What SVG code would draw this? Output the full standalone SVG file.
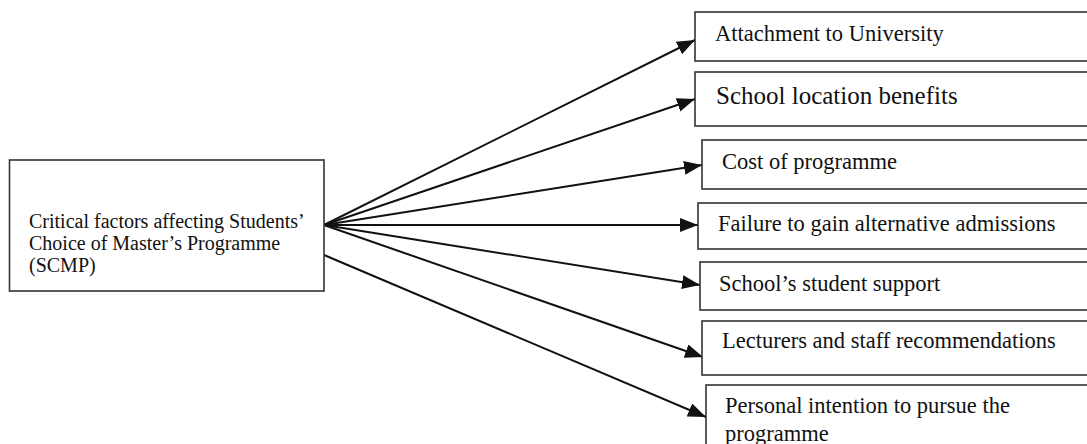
<svg xmlns="http://www.w3.org/2000/svg" width="1087" height="444" viewBox="0 0 1087 444">
<style>
.box{fill:#fff;stroke:#333;stroke-width:1.6}
.t{font-family:"Liberation Serif","Times New Roman",serif;fill:#111;font-size:22.5px}
.c{stroke:#111;stroke-width:2;fill:none}
</style>
<defs>
<marker id="ah" markerUnits="userSpaceOnUse" markerWidth="20" markerHeight="16" refX="18" refY="7" orient="auto">
<path d="M0,0 L18,7 L0,14 z" fill="#111"/>
</marker>
</defs>
<rect width="1087" height="444" fill="#fff"/>
<g id="connectors">
<line class="c" x1="324" y1="225" x2="695" y2="40" marker-end="url(#ah)"/>
<line class="c" x1="324" y1="225" x2="695" y2="99" marker-end="url(#ah)"/>
<line class="c" x1="324" y1="225" x2="702" y2="165" marker-end="url(#ah)"/>
<line class="c" x1="324" y1="225" x2="698" y2="225" marker-end="url(#ah)"/>
<line class="c" x1="324" y1="225" x2="700" y2="285" marker-end="url(#ah)"/>
<line class="c" x1="324" y1="225" x2="703" y2="357" marker-end="url(#ah)"/>
<line class="c" x1="324" y1="255" x2="706" y2="417" marker-end="url(#ah)"/>
</g>
<g id="scmp">
<rect class="box" x="9.5" y="160" width="314.5" height="131"/>
<text class="t" style="font-size:20px" x="29" y="228">Critical factors affecting Students’</text>
<text class="t" style="font-size:20px" x="29" y="250">Choice of Master’s Programme</text>
<text class="t" style="font-size:20px" x="29" y="272">(SCMP)</text>
</g>
<g id="attachment">
<rect class="box" x="695" y="12" width="400" height="49"/>
<text class="t" x="715" y="41">Attachment to University</text>
</g>
<g id="location">
<rect class="box" x="695" y="72" width="400" height="54"/>
<text class="t" style="font-size:25px" x="716" y="104">School location benefits</text>
</g>
<g id="cost">
<rect class="box" x="702" y="140" width="400" height="49"/>
<text class="t" x="722" y="169">Cost of programme</text>
</g>
<g id="failure">
<rect class="box" x="698" y="203" width="400" height="46"/>
<text class="t" x="718" y="231">Failure to gain alternative admissions</text>
</g>
<g id="support">
<rect class="box" x="700" y="262" width="400" height="48"/>
<text class="t" x="719" y="291">School’s student support</text>
</g>
<g id="lecturers">
<rect class="box" x="702" y="321" width="400" height="54"/>
<text class="t" x="722" y="348">Lecturers and staff recommendations</text>
</g>
<g id="personal">
<rect class="box" x="706" y="385" width="400" height="70"/>
<text class="t" x="725" y="413">Personal intention to pursue the</text>
<text class="t" x="725" y="441">programme</text>
</g>
</svg>
